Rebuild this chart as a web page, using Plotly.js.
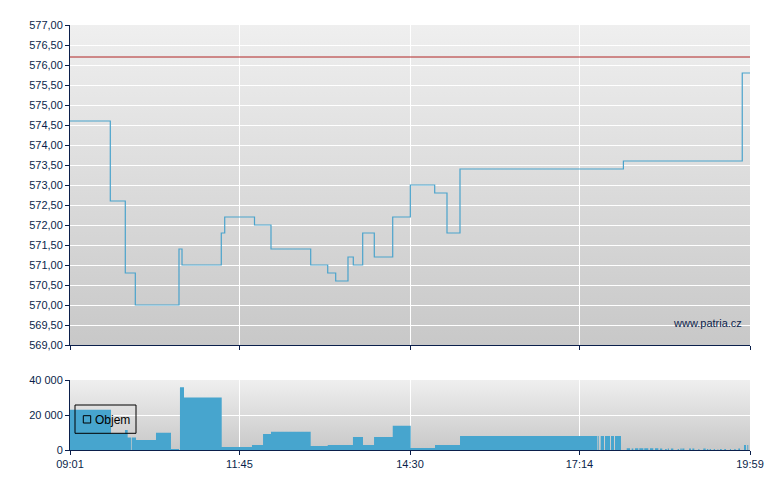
<!DOCTYPE html>
<html>
<head>
<meta charset="utf-8">
<script src="https://cdn.plot.ly/plotly-3.0.1.min.js"></script>
<style>html,body{margin:0;padding:0;background:#fff;}#chart{width:780px;height:490px;}</style>
</head>
<body>
<div id="chart"></div>
<script>
// ---- data ----
const day = '2024-01-02 ';
const priceTimes = ['09:01:00','09:40:00','09:54:30','10:04:12','10:46:28','10:49:23','11:27:24','11:30:42','11:59:32','12:15:30','12:53:55','13:10:23','13:18:06','13:30:00','13:35:08','13:44:14','13:55:27','14:13:16','14:30:19','14:53:54','15:05:48','15:18:23','17:56:30','19:51:30','19:59:00'];
const priceValues = [574.6,572.6,570.8,570.0,571.4,571.0,571.8,572.2,572.0,571.4,571.0,570.8,570.6,571.2,571.0,571.8,571.2,572.2,573.0,572.8,571.8,573.4,573.6,575.8,575.8];
const refPrice = 576.2;

const volTimes = ['09:01:00','09:40:42','09:54:12','09:56:48','10:00:00','10:00:42','10:04:52','10:24:12','10:38:42','10:46:30','10:47:24','10:51:18','11:27:48','11:57:06','12:07:48','12:15:30','12:53:54','13:10:24','13:34:48','13:44:30','13:55:12','14:13:18','14:30:42','14:54:12','15:18:24',
 '17:31:00','17:31:38','17:32:35','17:34:31','17:37:42','17:38:40','17:43:31','17:44:29','17:47:23','17:48:22','17:54:10',
 '17:59:42','18:02:54','18:04:30','18:06:06','18:07:42','18:10:54','18:11:54','18:15:48','18:16:42','18:20:36','18:22:12','18:25:24','18:27:06','18:30:18','18:31:54','18:34:06','18:36:48','18:38:24','18:39:24','18:40:36','18:42:30','18:44:48','18:49:00','18:50:18','18:51:36','18:52:54','18:53:30','18:55:30',
 '19:00:00','19:01:54','19:03:12','19:05:06','19:09:00','19:10:00','19:13:48','19:16:06','19:17:24','19:18:36','19:20:00','19:21:18','19:23:54','19:25:06','19:27:42','19:28:18','19:30:00','19:31:36','19:34:06','19:35:48','19:39:36','19:40:36','19:43:48','19:45:06','19:47:42','19:49:18','19:53:12','19:55:06','19:56:24','19:57:18'];
const volValues = [23000,9500,11500,7100,0,7100,5750,9800,600,0,35900,30000,1700,2900,9200,10400,2300,2900,7500,2900,7500,13800,1150,2900,8000,
 0,8000,0,8000,0,8000,0,8000,0,8000,0,
 1000,0,800,0,1000,0,1000,0,1000,0,1000,0,1000,0,800,0,600,0,800,0,800,0,600,0,800,0,800,0,
 800,0,800,0,600,0,800,0,600,0,600,0,600,0,600,0,600,0,600,0,600,0,600,0,800,0,2900,0,2900,0];

const tickTimes = ['09:01','11:45','14:30','17:14','19:59'];
const legendLabel = 'Objem';
const watermark = 'www.patria.cz';

// ---- styling ----
const navy = '#0b1f4b';
const blue = '#47a5ce';
const font = 'Liberation Sans, Arial, sans-serif';
const toX = t => day + (t.length === 5 ? t + ':00' : t);

const L = 70, R = 750, T = 25, B = 450, W = 780, H = 490;
const ph = B - T;
const px2x = p => (p - L) / (R - L);
const py2y = p => (B - p) / ph;

const topDomain = [py2y(345), 1];
const botDomain = [0, py2y(380)];

function grad(top, bottom) {
  const svg = "<svg xmlns='http://www.w3.org/2000/svg' width='10' height='100' preserveAspectRatio='none'><defs><linearGradient id='g' x1='0' y1='0' x2='0' y2='1'><stop offset='0' stop-color='" + top + "'/><stop offset='1' stop-color='" + bottom + "'/></linearGradient></defs><rect width='10' height='100' fill='url(#g)'/></svg>";
  return 'data:image/svg+xml;charset=utf-8,' + encodeURIComponent(svg);
}

const traces = [
  {
    x: volTimes.map(toX), y: volValues, xaxis: 'x2', yaxis: 'y2',
    type: 'scatter', mode: 'lines', line: {shape: 'hv', width: 0, color: blue},
    fill: 'tozeroy', fillcolor: blue, name: legendLabel, showlegend: false, hoverinfo: 'skip'
  },
  {
    x: priceTimes.map(toX), y: priceValues, xaxis: 'x', yaxis: 'y',
    type: 'scatter', mode: 'lines', line: {shape: 'hv', width: 1.2, color: '#4aa3cc'},
    showlegend: false, hoverinfo: 'skip'
  }
];

const xRange = [toX('09:01'), toX('19:59')];
const tickvals = tickTimes.map(toX);

const axisCommon = {
  showline: true, linecolor: navy, linewidth: 1,
  ticks: 'outside', ticklen: 4, tickcolor: navy, tickwidth: 1,
  tickfont: {family: font, size: 11, color: navy},
  gridcolor: '#ffffff', gridwidth: 1, zeroline: false
};

const layout = {
  width: W, height: H,
  margin: {l: L, r: W - R, t: T, b: H - B, pad: 0},
  paper_bgcolor: '#ffffff', plot_bgcolor: '#dcdcdc',
  separators: ', ',
  showlegend: false,
  xaxis: Object.assign({}, axisCommon, {type: 'date', range: xRange, tickvals: tickvals, tickformat: '%H:%M', showticklabels: false, anchor: 'y', domain: [0, 1]}),
  xaxis2: Object.assign({}, axisCommon, {type: 'date', range: xRange, tickvals: tickvals, tickformat: '%H:%M', anchor: 'y2', domain: [0, 1], matches: 'x'}),
  yaxis: Object.assign({}, axisCommon, {range: [569, 577], dtick: 0.5, tick0: 569, tickformat: '.2f', domain: topDomain, anchor: 'x'}),
  yaxis2: Object.assign({}, axisCommon, {range: [0, 40000], dtick: 20000, tick0: 0, tickformat: ',d', domain: botDomain, anchor: 'x2'}),
  images: [
    {source: grad('#efefef', '#c8c8c8'), xref: 'paper', yref: 'paper', x: 0, y: topDomain[1], sizex: 1, sizey: topDomain[1] - topDomain[0], xanchor: 'left', yanchor: 'top', sizing: 'stretch', layer: 'below'},
    {source: grad('#efefef', '#c8c8c8'), xref: 'paper', yref: 'paper', x: 0, y: botDomain[1], sizex: 1, sizey: botDomain[1] - botDomain[0], xanchor: 'left', yanchor: 'top', sizing: 'stretch', layer: 'below'}
  ],
  shapes: [
    {type: 'line', xref: 'x domain', yref: 'y', x0: 0, x1: 1, y0: refPrice, y1: refPrice, line: {color: '#b02424', width: 1}},
    {type: 'rect', xref: 'paper', yref: 'paper', x0: px2x(75), x1: px2x(136), y0: py2y(433.3), y1: py2y(405), line: {color: '#000000', width: 1}, fillcolor: 'rgba(0,0,0,0)'},
    {type: 'rect', xref: 'paper', yref: 'paper', x0: px2x(83.3), x1: px2x(90.7), y0: py2y(423), y1: py2y(415.7), line: {color: '#000000', width: 1}, fillcolor: 'rgba(0,0,0,0)'}
  ],
  annotations: [
    {text: legendLabel, xref: 'paper', yref: 'paper', x: px2x(93), y: py2y(420), xanchor: 'left', yanchor: 'middle', showarrow: false, font: {family: font, size: 12, color: '#000000'}},
    {text: watermark, xref: 'paper', yref: 'paper', x: px2x(744), y: py2y(323), xanchor: 'right', yanchor: 'middle', showarrow: false, font: {family: font, size: 11, color: navy}}
  ]
};

Plotly.newPlot('chart', traces, layout, {displayModeBar: false, staticPlot: true});
</script>
</body>
</html>
